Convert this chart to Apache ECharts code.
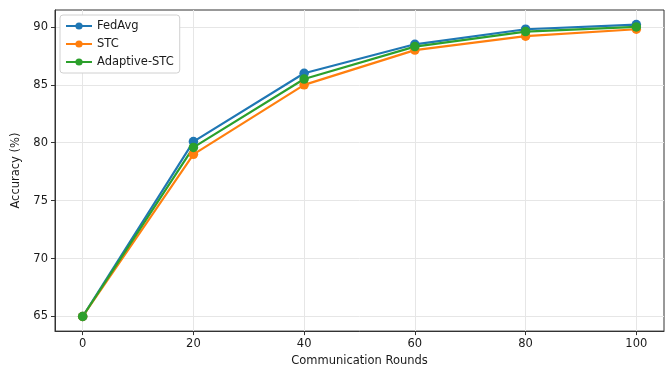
<!DOCTYPE html>
<html><head><meta charset="utf-8">
<script src="https://cdn.jsdelivr.net/npm/echarts@6/dist/echarts.min.js"></script>
<style>html,body{margin:0;padding:0;background:#fff}#c{width:669px;height:372px}</style>
</head><body><div id="c"></div>
<script>
const rounds = [0, 20, 40, 60, 80, 100];
const fedAvg = [65, 80.1, 86.0, 88.5, 89.8, 90.2];
const stc = [65, 79.0, 85.0, 88.0, 89.2, 89.8];
const adaptiveStc = [65, 79.6, 85.5, 88.3, 89.6, 90.0];
const xTicks = [0, 20, 40, 60, 80, 100];
const yTicks = [65, 70, 75, 80, 85, 90];

const font = 'DejaVu Sans';
const colors = ['#1f77b4', '#ff7f0e', '#2ca02c'];
function mk(name, data, color) {
  return {
    name, type: 'line', data: rounds.map((r, i) => [r, data[i]]),
    symbol: 'circle', symbolSize: 9.5,
    lineStyle: { width: 2.2, color }, itemStyle: { color },
    emphasis: { disabled: true }, animation: false
  };
}
const chart = echarts.init(document.getElementById('c'), null, { renderer: 'canvas' });
chart.setOption({
  animation: false,
  grid: { left: 55, right: 5, top: 10, bottom: 38, show: true, borderColor: '#333', borderWidth: 1, containLabel: false },
  legend: {
    orient: 'vertical', left: 60, top: 15, itemGap: 6, itemWidth: 26, itemHeight: 9,
    backgroundColor: '#fff', borderColor: '#d0d0d0', borderWidth: 1, borderRadius: 3,
    padding: [5, 6, 5, 5],
    textStyle: { fontFamily: font, fontSize: 11.5, color: '#1a1a1a' },
    data: ['FedAvg', 'STC', 'Adaptive-STC']
  },
  xAxis: {
    type: 'value', min: -5, max: 105,
    name: 'Communication Rounds', nameLocation: 'middle', nameGap: 23,
    nameTextStyle: { fontFamily: font, fontSize: 11.5, color: '#1a1a1a' },
    axisLine: { show: true, onZero: false, lineStyle: { color: '#333' } },
    axisTick: { show: true, customValues: xTicks, length: 4, lineStyle: { color: '#333' } },
    axisLabel: { customValues: xTicks, fontFamily: font, fontSize: 11.5, color: '#1a1a1a', margin: 7 },
    splitLine: { show: true, lineStyle: { color: '#e6e6e6' } }
  },
  yAxis: {
    type: 'value', min: 63.74, max: 91.46,
    name: 'Accuracy (%)', nameLocation: 'middle', nameGap: 29, nameRotate: 90,
    nameTextStyle: { fontFamily: font, fontSize: 11.5, color: '#1a1a1a' },
    axisLine: { show: true, onZero: false, lineStyle: { color: '#333' } },
    axisTick: { show: true, customValues: yTicks, length: 4, lineStyle: { color: '#333' } },
    axisLabel: { customValues: yTicks, fontFamily: font, fontSize: 11.5, color: '#1a1a1a', margin: 7 },
    splitLine: { show: true, lineStyle: { color: '#e6e6e6' } }
  },
  series: [mk('FedAvg', fedAvg, colors[0]), mk('STC', stc, colors[1]), mk('Adaptive-STC', adaptiveStc, colors[2])]
});
</script></body></html>
